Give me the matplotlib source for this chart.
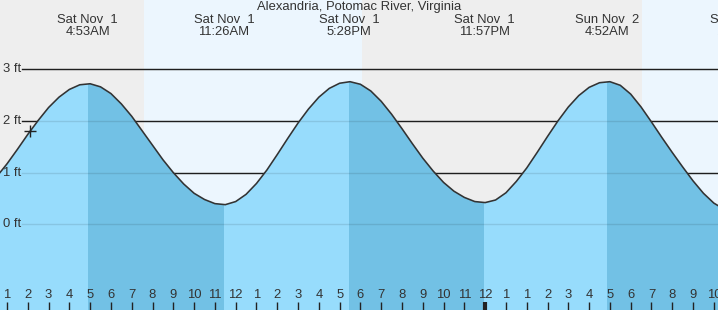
''' Tide chart for Alexandria, Potomac River, Virginia '''
import matplotlib.pyplot as plt
from matplotlib.transforms import blended_transform_factory

plt.rcParams['font.family'] = ['Liberation Sans', 'DejaVu Sans']

# Hours since midnight Sat Nov 1 (clock kept running through the DST change)
hours = [0.5, 1.0, 1.5, 2.0, 2.5, 3.0, 3.5, 4.0, 4.5, 5.0,
         5.5, 6.0, 6.5, 7.0, 7.5, 8.0, 8.5, 9.0, 9.5, 10.0,
         10.5, 11.0, 11.5, 12.0, 12.5, 13.0, 13.5, 14.0, 14.5, 15.0,
         15.5, 16.0, 16.5, 17.0, 17.5, 18.0, 18.5, 19.0, 19.5, 20.0,
         20.5, 21.0, 21.5, 22.0, 22.5, 23.0, 23.5, 24.0, 24.5, 25.0,
         25.5, 26.0, 26.5, 27.0, 27.5, 28.0, 28.5, 29.0, 29.5, 30.0,
         30.5, 31.0, 31.5, 32.0, 32.5, 33.0, 33.5, 34.0, 34.5, 35.0, 35.5]
# Water level in feet
level = [0.92, 1.17, 1.45, 1.74, 2.01, 2.26, 2.46, 2.61, 2.70, 2.72,
         2.66, 2.53, 2.33, 2.09, 1.81, 1.53, 1.25, 1.00, 0.78, 0.60,
         0.48, 0.40, 0.38, 0.44, 0.58, 0.79, 1.05, 1.35, 1.66, 1.96,
         2.23, 2.46, 2.63, 2.73, 2.76, 2.71, 2.58, 2.38, 2.13, 1.85,
         1.56, 1.28, 1.03, 0.81, 0.64, 0.52, 0.44, 0.42, 0.47, 0.61,
         0.83, 1.09, 1.39, 1.70, 2.00, 2.27, 2.49, 2.65, 2.74, 2.76,
         2.69, 2.52, 2.27, 1.98, 1.68, 1.39, 1.11, 0.84, 0.60, 0.41, 0.29]

# High / low tide events
event_hours = [4.883, 11.433, 17.467, 23.95, 29.867, 36.35]
event_day = ['Sat Nov  1', 'Sat Nov  1', 'Sat Nov  1', 'Sat Nov  1', 'Sun Nov  2', 'Sun Nov  2']
event_time = ['4:53AM', '11:26AM', '5:28PM', '11:57PM', '4:52AM', '11:21AM']
ebb_periods = [(4.883, 11.433), (17.467, 23.95), (29.867, 36.35)]

# Night time (sunset to sunrise)
night_periods = [(0.0, 7.57), (18.07, 31.55)]

# Current time marker
now_hour = 2.1
now_level = 1.81

# Hour ticks along the bottom
tick_hours = list(range(1, 36))
tick_labels = ['1', '2', '3', '4', '5', '6', '7', '8', '9', '10', '11', '12',
               '1', '2', '3', '4', '5', '6', '7', '8', '9', '10', '11', '12',
               '1', '1', '2', '3', '4', '5', '6', '7', '8', '9', '10']
midnight_hour = 24

grid_levels = [0, 1, 2, 3]
grid_labels = ['0 ft', '1 ft', '2 ft', '3 ft']

W, H = 718, 310
text_color = '#333333'
fs = 9.4

fig = plt.figure(figsize=(W / 100, H / 100), dpi=100)
fig.patch.set_facecolor('#ecf6fe')
ax = fig.add_axes([0, 0, 1, 1])
ax.set_axis_off()
ax.set_xlim(0.6633, 35.2)
ax.set_ylim(-1.659, 4.341)

# Night shading
for start, end in night_periods:
    ax.axvspan(start, end, color='#eeeeee', lw=0, zorder=0)

# Grid lines (black above the water, faint below)
for lev in grid_levels:
    ax.axhline(lev, xmin=22 / W, color='#222222', lw=1, zorder=1)

water = ax.fill_between(hours, level, -3, color='#97dcfc', lw=0, zorder=2)
clip = water.get_paths()[0]
for start, end in ebb_periods:
    span = ax.axvspan(start, end, color='#72c1e5', lw=0, zorder=3)
    span.set_clip_path(clip, ax.transData)

for lev in grid_levels:
    ax.axhline(lev, xmin=22 / W, color='black', alpha=0.1, lw=1, zorder=4)

ax.plot(hours, level, color='#333333', lw=1.15, zorder=5)
ax.plot(now_hour, now_level, marker='+', ms=9, mew=1, color='#222222', zorder=6)

# Level labels
ytrans = blended_transform_factory(ax.transAxes, ax.transData)
for lev, lab in zip(grid_levels, grid_labels):
    ax.text(3 / W, lev, lab, ha='left', va='center', fontsize=fs, color=text_color,
            transform=ytrans, zorder=7)

# Event labels along the top
xtrans = ax.get_xaxis_transform()
for t, day, tm in zip(event_hours, event_day, event_time):
    ax.text(t, 1 - 20 / H, day, ha='center', va='center', fontsize=fs,
            color=text_color, transform=xtrans, clip_on=False)
    ax.text(t, 1 - 32 / H, tm, ha='center', va='center', fontsize=fs,
            color=text_color, transform=xtrans, clip_on=False)

fig.text(0.5, 1 - 7 / H, 'Alexandria, Potomac River, Virginia', ha='center', va='center',
         fontsize=fs, color=text_color)

# Hour ticks
for t, lab in zip(tick_hours, tick_labels):
    ax.text(t, 14.5 / H, lab, ha='center', va='center', fontsize=fs,
            color=text_color, transform=xtrans, zorder=7)
    ax.vlines(t, 0, 8 / H, color='#222222', lw=3 if t == midnight_hour else 1,
              transform=xtrans, zorder=7)

fig.savefig('out.png', dpi=100)
